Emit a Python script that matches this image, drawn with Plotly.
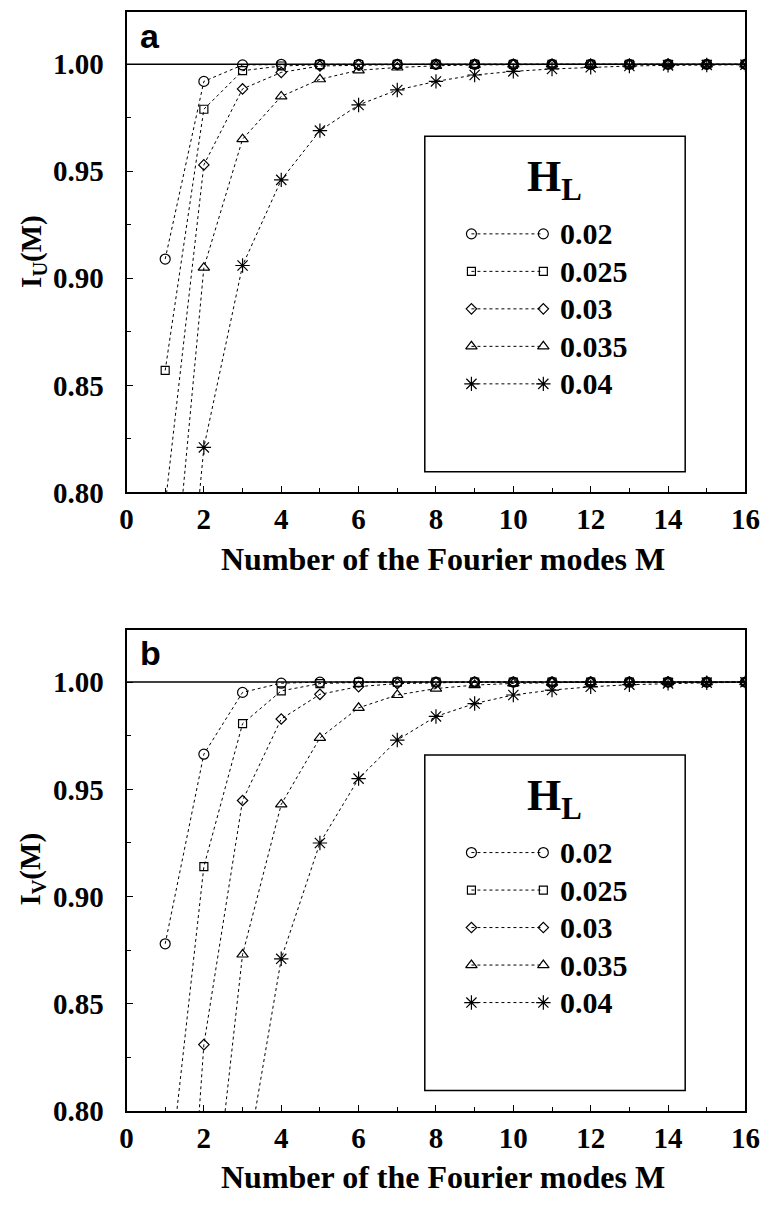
import plotly.graph_objects as go

# Number of Fourier modes
M = list(range(1, 17))

# Legend labels (H_L values) and marker styles
HL_LABELS = ["0.02", "0.025", "0.03", "0.035", "0.04"]
SYMBOLS = ["circle-open", "square-open", "diamond-open", "triangle-up-open", "asterisk-open"]
SIZES = [10, 8, 8, 10, 12]

# Panel a: I_U(M)
iu_002 = [0.909, 0.992, 0.9997, 1.0, 1.0, 1.0, 1.0, 1.0, 1.0, 1.0, 1.0, 1.0, 1.0, 1.0, 1.0, 1.0]
iu_0025 = [0.857, 0.979, 0.997, 0.9992, 0.9998, 0.9999, 1.0, 1.0, 1.0, 1.0, 1.0, 1.0, 1.0, 1.0, 1.0, 1.0]
iu_003 = [0.794, 0.953, 0.9885, 0.9962, 0.9992, 0.9997, 0.9999, 1.0, 1.0, 1.0, 1.0, 1.0, 1.0, 1.0, 1.0, 1.0]
iu_0035 = [0.711, 0.905, 0.965, 0.985, 0.993, 0.9972, 0.9985, 0.9993, 0.9997, 0.9999, 1.0, 1.0, 1.0, 1.0, 1.0, 1.0]
iu_004 = [0.63, 0.821, 0.906, 0.946, 0.969, 0.981, 0.988, 0.992, 0.995, 0.9967, 0.9978, 0.9986, 0.9992, 0.9995, 0.9997, 0.9998]

# Panel b: I_V(M)
iv_002 = [0.878, 0.9664, 0.9952, 0.9995, 1.0, 1.0, 1.0, 1.0, 1.0, 1.0, 1.0, 1.0, 1.0, 1.0, 1.0, 1.0]
iv_0025 = [0.751, 0.914, 0.9806, 0.9959, 0.9993, 0.9999, 1.0, 1.0, 1.0, 1.0, 1.0, 1.0, 1.0, 1.0, 1.0, 1.0]
iv_003 = [0.573, 0.831, 0.9448, 0.9828, 0.9943, 0.9979, 0.9993, 0.9998, 1.0, 1.0, 1.0, 1.0, 1.0, 1.0, 1.0, 1.0]
iv_0035 = [None, 0.711, 0.873, 0.943, 0.974, 0.988, 0.994, 0.997, 0.9986, 0.9994, 0.9998, 1.0, 1.0, 1.0, 1.0, 1.0]
iv_004 = [None, None, 0.765, 0.871, 0.925, 0.955, 0.973, 0.984, 0.990, 0.994, 0.9963, 0.9978, 0.9988, 0.9994, 0.9997, 0.9999]

W, H = 775, 1209
SERIF = "Liberation Serif"
SANS = "Liberation Sans"


def fx(p):
    return p / W


def fy(p):
    return 1 - p / H


# plot-area pixel boxes: (left, top, right, bottom)
PANELS = [
    dict(box=(123, 12, 760, 499), series=[iu_002, iu_0025, iu_003, iu_0035, iu_004],
         tag="a", ytitle="I<sub>U</sub>(M)", legend_top=138),
    dict(box=(123, 638, 760, 1126), series=[iv_002, iv_0025, iv_003, iv_0035, iv_004],
         tag="b", ytitle="I<sub>V</sub>(M)", legend_top=765),
]
LEG_LEFT, LEG_W, LEG_H = 430, 268, 340
ROW_OFFSETS = [99, 137, 175, 213, 251]

fig = go.Figure()
layout = dict(
    width=W, height=H,
    margin=dict(l=0, r=0, t=0, b=0),
    paper_bgcolor="white", plot_bgcolor="white",
    showlegend=False,
    font=dict(family=SERIF, color="black"),
)
shapes = []
annotations = []

for i, p in enumerate(PANELS):
    l, t, r, b = p["box"]
    xa = "xaxis" if i == 0 else f"xaxis{2 * i + 1}"
    ya = "yaxis" if i == 0 else f"yaxis{2 * i + 1}"
    xref = "x" if i == 0 else f"x{2 * i + 1}"
    yref = "y" if i == 0 else f"y{2 * i + 1}"
    # legend axes for this panel
    lxa = f"xaxis{2 * i + 2}"
    lya = f"yaxis{2 * i + 2}"
    lxref = f"x{2 * i + 2}"
    lyref = f"y{2 * i + 2}"

    layout[xa] = dict(
        domain=[fx(l), fx(r)], anchor=yref, range=[0, 16],
        tickmode="linear", tick0=0, dtick=2,
        ticks="inside", ticklen=6, tickwidth=1.2, tickcolor="black",
        minor=dict(dtick=1, ticks="inside", ticklen=4, tickwidth=1, tickcolor="black"),
        showline=True, linecolor="black", linewidth=2, mirror=True,
        showgrid=False, zeroline=False,
        tickfont=dict(family=SERIF, size=29, color="black", weight="bold"),
        fixedrange=True,
    )
    layout[ya] = dict(
        domain=[fy(b), fy(t)], anchor=xref, range=[0.80, 1.0245],
        tickmode="linear", tick0=0.80, dtick=0.05, tickformat=".2f",
        ticks="inside", ticklen=6, tickwidth=1.2, tickcolor="black",
        minor=dict(dtick=0.025, ticks="inside", ticklen=4, tickwidth=1, tickcolor="black"),
        showline=True, linecolor="black", linewidth=2, mirror=True,
        showgrid=False, zeroline=False, ticklabelstandoff=15,
        tickfont=dict(family=SERIF, size=29, color="black", weight="bold"),
        fixedrange=True,
    )

    for k, ys in enumerate(p["series"]):
        fig.add_trace(go.Scatter(
            x=M, y=ys, mode="lines+markers", xaxis=xref, yaxis=yref,
            line=dict(color="black", width=1, dash="dot"),
            marker=dict(symbol=SYMBOLS[k], size=SIZES[k], color="black",
                        line=dict(color="black", width=1.2)),
            cliponaxis=True, hoverinfo="skip", name=HL_LABELS[k],
        ))

    # reference line at 1.00
    shapes.append(dict(type="line", xref=f"{xref} domain", yref=yref,
                       x0=0, x1=1, y0=1.0, y1=1.0,
                       line=dict(color="black", width=1.5)))

    # panel tag
    annotations.append(dict(text=f"<b>{p['tag']}</b>", xref="paper", yref="paper",
                            x=fx(l + 12), y=fy(t + 24), xanchor="left", yanchor="middle",
                            showarrow=False, font=dict(family=SANS, size=34, color="black")))
    # axis titles
    annotations.append(dict(text=f"<b>{p['ytitle']}</b>", xref="paper", yref="paper",
                            x=fx(26), y=fy(t + 243), textangle=-90,
                            xanchor="center", yanchor="middle", showarrow=False,
                            font=dict(family=SERIF, size=29, color="black")))
    annotations.append(dict(text="<b>Number of the Fourier modes M</b>", xref="paper", yref="paper",
                            x=fx(449), y=fy(b + 67), xanchor="center", yanchor="middle",
                            showarrow=False, font=dict(family=SERIF, size=32, color="black")))

    # legend box drawn on its own pixel-unit axes
    lt = p["legend_top"]
    layout[lxa] = dict(domain=[fx(LEG_LEFT), fx(LEG_LEFT + LEG_W)], anchor=lyref,
                       range=[0, LEG_W], visible=False, fixedrange=True)
    layout[lya] = dict(domain=[fy(lt + LEG_H), fy(lt)], anchor=lxref,
                       range=[LEG_H, 0], visible=False, fixedrange=True)
    shapes.append(dict(type="rect", xref=f"{lxref} domain", yref=f"{lyref} domain",
                       x0=0, x1=1, y0=0, y1=1, line=dict(color="black", width=1.5)))
    annotations.append(dict(text="<b>H<sub>L</sub></b>", xref=lxref, yref=lyref,
                            x=133, y=44, xanchor="center", yanchor="middle", showarrow=False,
                            font=dict(family=SERIF, size=44, color="black")))
    for k, lab in enumerate(HL_LABELS):
        yy = ROW_OFFSETS[k]
        fig.add_trace(go.Scatter(
            x=[48, 122], y=[yy, yy], mode="lines+markers", xaxis=lxref, yaxis=lyref,
            line=dict(color="black", width=1, dash="dot"),
            marker=dict(symbol=SYMBOLS[k], size=SIZES[k], color="black",
                        line=dict(color="black", width=1.2)),
            hoverinfo="skip", showlegend=False,
        ))
        annotations.append(dict(text=f"<b>{lab}</b>", xref=lxref, yref=lyref,
                                x=137, y=yy, xanchor="left", yanchor="middle", showarrow=False,
                                font=dict(family=SERIF, size=30, color="black")))

layout["shapes"] = shapes
layout["annotations"] = annotations
fig.update_layout(**layout)

fig.write_html("out.html")
